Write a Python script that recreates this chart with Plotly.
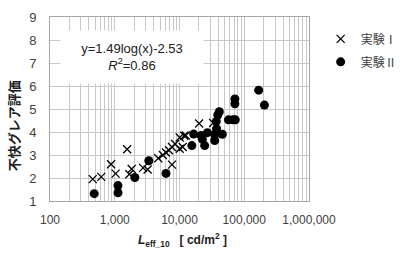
import plotly.graph_objects as go

# 実験Ⅰ (crosses)
exp1_x = [457, 619, 877, 1031, 1554, 1680, 1828, 2737, 3221, 4700, 5530, 6180, 6880,
          7660, 8550, 10070, 11840, 10070, 11200, 7660, 20100, 33100, 12500]
exp1_y = [1.95, 2.05, 2.60, 2.19, 3.25, 2.16, 2.39, 2.44, 2.37, 2.86, 3.00, 3.11, 3.21,
          3.35, 3.48, 3.76, 3.84, 3.27, 3.35, 2.58, 4.37, 4.39, 3.85]

# 実験Ⅱ (circles)
exp2_x = [482, 1122, 1122, 2042, 3360, 6180, 15520, 16560, 21480, 22550, 24480, 26980,
          35000, 37000, 39000, 41200, 37350, 45850, 57000, 67100, 72800, 71600, 71600,
          167000, 205000, 35000]
exp2_y = [1.32, 1.67, 1.36, 2.02, 2.75, 2.20, 3.41, 3.91, 3.85, 3.68, 3.41, 3.97,
          3.63, 4.46, 4.74, 4.88, 4.14, 3.90, 4.53, 4.53, 4.53, 5.44, 5.23,
          5.82, 5.17, 3.90]

x_tickvals = [100, 1000, 10000, 100000, 1000000]
x_ticktext = ["100", "1,000", "10,000", "100,000", "1,000,000"]
y_tickvals = [1, 2, 3, 4, 5, 6, 7, 8, 9]

minor_vals = [m * d for d in [100, 1000, 10000, 100000] for m in range(2, 10)]

num_font = "Liberation Sans, Arial, sans-serif"
jp_font = "Noto Sans CJK JP, sans-serif"
grid = "#c8c8c8"
txt = "#404040"

fig = go.Figure()
fig.add_trace(go.Scatter(
    x=exp1_x, y=exp1_y, mode="markers", name="実験Ⅰ", legendgroup="a",
    marker=dict(symbol="x-thin", size=8, line=dict(width=1.3, color="#000000"), color="#000000"),
))
fig.add_trace(go.Scatter(
    x=exp2_x, y=exp2_y, mode="markers", name="実験Ⅱ", legendgroup="b",
    marker=dict(symbol="circle", size=9, color="#000000"),
))

fig.update_layout(
    width=413, height=256,
    margin=dict(l=50, r=80, t=10, b=55),
    paper_bgcolor="white", plot_bgcolor="white",
    font=dict(family=num_font, size=12, color=txt),
    legend=dict(x=1.045, xanchor="left", y=0.96, yanchor="top",
                bgcolor="rgba(0,0,0,0)", font=dict(family=jp_font, size=12, color=txt),
                tracegroupgap=4, itemwidth=30),
    xaxis=dict(
        type="log", range=[2, 6],
        tickmode="array", tickvals=x_tickvals, ticktext=x_ticktext,
        showgrid=True, gridcolor=grid, gridwidth=1,
        minor=dict(tickmode="array", tickvals=minor_vals, showgrid=True,
                   gridcolor=grid, gridwidth=1, ticks=""),
        showline=True, linecolor="#a6a6a6", linewidth=1, mirror=True,
        ticks="", ticklabelstandoff=8,
        tickfont=dict(family=num_font, size=12, color=txt),
        zeroline=False,
    ),
    yaxis=dict(
        range=[1, 9], tickmode="array", tickvals=y_tickvals,
        showgrid=True, gridcolor=grid, gridwidth=1,
        showline=True, linecolor="#a6a6a6", linewidth=1, mirror=True,
        ticks="", ticklabelstandoff=10,
        tickfont=dict(family=num_font, size=13, color=txt),
        zeroline=False,
    ),
)

fig.add_annotation(
    xref="paper", yref="paper", x=0.318, y=0.785, xanchor="center", yanchor="middle",
    text="y=1.49log(x)-2.53<br><i>R</i><sup>2</sup>=0.86",
    showarrow=False, bgcolor="white", width=140, height=50,
    font=dict(family=num_font, size=13, color="#202020"), align="center",
)

fig.add_annotation(
    xref="paper", yref="paper", x=-0.14, y=0.41, xanchor="center", yanchor="middle",
    text="<b>不快グレア評価</b>", textangle=-90, showarrow=False,
    font=dict(family=jp_font, size=13, color="#202020"),
)

fig.add_annotation(
    xref="paper", yref="paper", x=0.51, y=-0.21, xanchor="center", yanchor="middle",
    text="<b><i>L</i><sub>eff_10</sub>   [ cd/m<sup>2</sup> ]</b>", showarrow=False,
    font=dict(family=num_font, size=12, color="#202020"),
)

fig.write_html("out.html")
